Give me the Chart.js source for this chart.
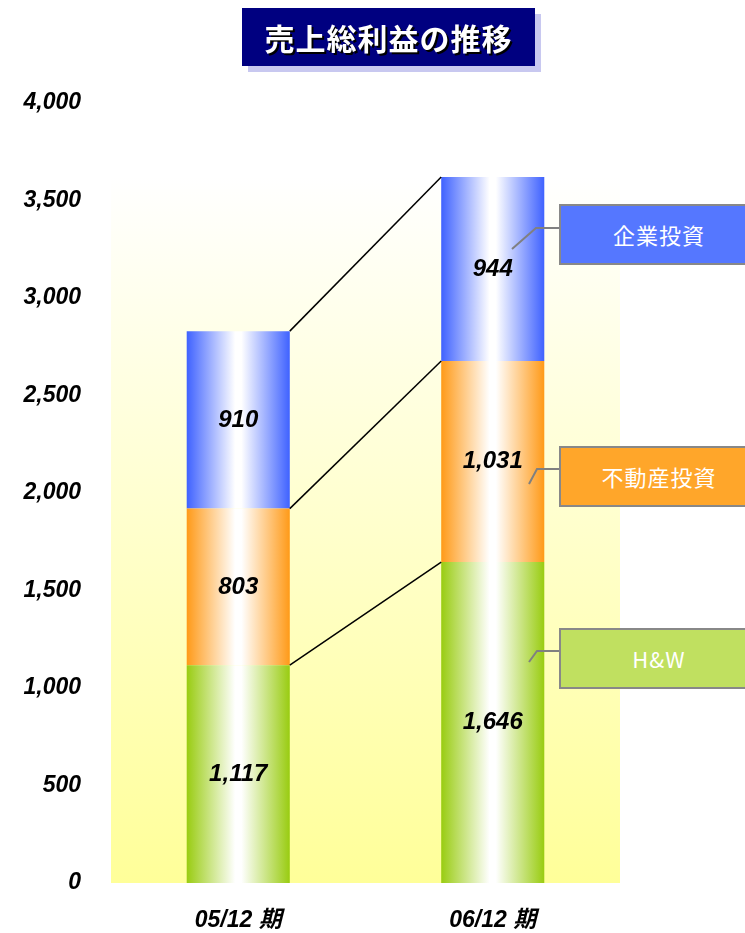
<!DOCTYPE html>
<html lang="ja">
<head>
<meta charset="utf-8">
<title>売上総利益の推移</title>
<script src="https://cdn.jsdelivr.net/npm/chart.js@4.4.1/dist/chart.umd.min.js"></script>
<style>
  html, body { margin: 0; padding: 0; background: #fff; overflow: hidden; }
  #wrap { position: relative; width: 745px; height: 933px; }
  #title {
    position: absolute; left: 242px; top: 8px; width: 293px; height: 58px;
    background: #000080; box-shadow: 6px 6px 0 #c8c8f0;
    color: #fff; font: bold 30px "Noto Sans CJK JP", sans-serif;
    letter-spacing: 1px; text-align: center; line-height: 58px;
    text-shadow: 2px 2px 0 #000;
  }
  .tag {
    position: absolute; left: 559px; width: 196px; height: 57px;
    border: 2px solid #888; color: #fff;
    font: 22px "Noto Sans CJK JP", sans-serif; letter-spacing: 1px;
    text-align: center; line-height: 57px;
  }
</style>
</head>
<body>
<div id="wrap">
  <canvas id="chart" width="745" height="933"></canvas>
  <div id="title">売上総利益の推移</div>
  <div class="tag" style="top:204px;background:#5577ff">企業投資</div>
  <div class="tag" style="top:446px;background:#ffa62a">不動産投資</div>
  <div class="tag" style="top:628px;background:#c0e060">H&amp;W</div>
</div>
<script>
const periods = ['05/12 期', '06/12 期'];
const segmentNames = ['H&W', '不動産投資', '企業投資'];
const hwValues = [1117, 1646];
const realEstateValues = [803, 1031];
const corporateValues = [910, 944];
const yMax = 4000;
const yStep = 500;

const edgeColors = ['#99cc11', '#ff9a18', '#3f62ff'];
const barPct = 0.405;

// callout leader lines: box edge -> elbow -> point inside the 06/12 bar
const leaders = [
    [[559, 651], [537, 651], [529, 662]],
    [[559, 469], [537, 469], [529, 484]],
    [[559, 228], [536, 228], [512, 249]]
];

const seriesValues = [hwValues, realEstateValues, corporateValues];

// colour -> white -> colour across the width of one bar
function barFill(context) {
    const chart = context.chart;
    const xs = chart.scales.x;
    const color = edgeColors[context.datasetIndex];
    if (!xs || context.dataIndex === undefined) return color;
    const cx = xs.getPixelForValue(context.dataIndex);
    const half = (xs.width / periods.length) * barPct / 2;
    if (!isFinite(cx) || !isFinite(half) || half <= 0) return color;
    const g = chart.ctx.createLinearGradient(cx - half, 0, cx + half, 0);
    g.addColorStop(0, color);
    g.addColorStop(0.47, '#ffffff');
    g.addColorStop(0.53, '#ffffff');
    g.addColorStop(1, color);
    return g;
}

const barStyle = {
    id: 'barStyle',
    beforeDatasetsDraw(chart) {
        const ctx = chart.ctx;
        const area = chart.chartArea;
        const y = chart.scales.y;

        // plot backdrop, only as tall as the highest stack
        const totals = periods.map((p, i) => seriesValues.reduce((s, v) => s + v[i], 0));
        const top = y.getPixelForValue(Math.max(...totals));
        const bg = ctx.createLinearGradient(0, top, 0, area.bottom);
        bg.addColorStop(0, '#ffffff');
        bg.addColorStop(1, '#ffff99');
        ctx.save();
        ctx.fillStyle = bg;
        ctx.fillRect(area.left, top, area.right - area.left, area.bottom - top);
        ctx.restore();
    },
    afterDatasetsDraw(chart) {
        const ctx = chart.ctx;
        ctx.save();

        // lines joining the segment tops of the two bars
        ctx.strokeStyle = '#000';
        ctx.lineWidth = 1.5;
        chart.data.datasets.forEach((ds, di) => {
            const [a, b] = chart.getDatasetMeta(di).data;
            ctx.beginPath();
            ctx.moveTo(a.x + a.width / 2, a.y);
            ctx.lineTo(b.x - b.width / 2, b.y);
            ctx.stroke();
        });

        // value labels
        ctx.fillStyle = '#000';
        ctx.font = 'italic bold 24px "Liberation Sans", Arial, sans-serif';
        ctx.textAlign = 'center';
        ctx.textBaseline = 'middle';
        chart.data.datasets.forEach((ds, di) => {
            chart.getDatasetMeta(di).data.forEach((el, i) => {
                ctx.fillText(ds.data[i].toLocaleString('en-US'), el.x, (el.y + el.base) / 2);
            });
        });

        // callout leaders
        ctx.strokeStyle = '#808080';
        ctx.lineWidth = 2;
        leaders.forEach(pts => {
            ctx.beginPath();
            ctx.moveTo(pts[0][0], pts[0][1]);
            pts.slice(1).forEach(p => ctx.lineTo(p[0], p[1]));
            ctx.stroke();
        });
        ctx.restore();
    }
};

new Chart(document.getElementById('chart'), {
    type: 'bar',
    data: {
        labels: periods,
        datasets: seriesValues.map((vals, i) => ({
            label: segmentNames[i],
            data: vals,
            backgroundColor: barFill,
            borderWidth: 0,
            categoryPercentage: 1,
            barPercentage: barPct
        }))
    },
    options: {
        responsive: false,
        animation: false,
        layout: { padding: { top: 103, right: 125, left: 0, bottom: 0 } },
        plugins: {
            legend: { display: false },
            tooltip: { enabled: false }
        },
        scales: {
            x: {
                stacked: true,
                grid: { display: false, drawTicks: false },
                border: { display: false },
                ticks: {
                    color: '#000',
                    padding: 24,
                    font: { family: '"Liberation Sans", "Noto Sans CJK JP", sans-serif', size: 23, style: 'italic', weight: 'bold' }
                },
                afterFit(scale) { scale.height = 50; }
            },
            y: {
                stacked: true,
                min: 0,
                max: yMax,
                grid: { display: false, drawTicks: false },
                border: { display: false },
                ticks: {
                    stepSize: yStep,
                    color: '#000',
                    padding: 30,
                    font: { family: '"Liberation Sans", sans-serif', size: 23, style: 'italic', weight: 'bold' },
                    callback: v => v.toLocaleString('en-US')
                },
                afterFit(scale) { scale.width = 111; }
            }
        }
    },
    plugins: [barStyle]
});
</script>
</body>
</html>
